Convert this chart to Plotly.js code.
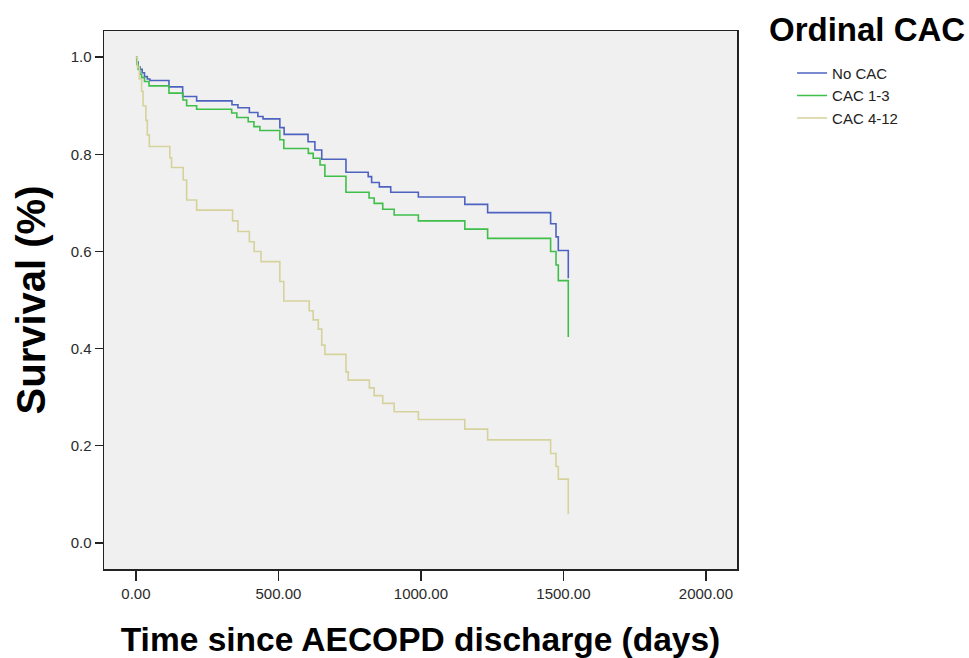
<!DOCTYPE html>
<html>
<head>
<meta charset="utf-8">
<script src="https://cdn.plot.ly/plotly-3.0.1.min.js"></script>
<style>html,body{margin:0;padding:0;background:#fff;}#chart{width:969px;height:658px;}</style>
</head>
<body>
<div id="chart"></div>
<script>
// Kaplan-Meier step points: time (days) at which survival changes, and survival after the change
const seriesNames = ["No CAC", "CAC 1-3", "CAC 4-12"];

const noCacTime = [0, 3, 8, 15, 22, 30, 40, 49, 116, 164, 213, 337, 358, 398, 428, 446, 505, 520, 604, 628, 652, 737, 815, 827, 854, 894, 991, 1154, 1234, 1455, 1474, 1482, 1517, 1517];
const noCacSurv = [1.0, 0.99, 0.98, 0.975, 0.968, 0.96, 0.955, 0.952, 0.939, 0.919, 0.91, 0.902, 0.896, 0.886, 0.878, 0.873, 0.855, 0.841, 0.826, 0.809, 0.79, 0.763, 0.754, 0.742, 0.733, 0.722, 0.712, 0.697, 0.68, 0.657, 0.63, 0.602, 0.545, 0.545];

const cac13Time = [0, 3, 8, 14, 20, 30, 46, 116, 165, 178, 213, 336, 354, 394, 414, 435, 505, 519, 605, 622, 646, 663, 737, 818, 836, 866, 906, 991, 1154, 1234, 1455, 1474, 1482, 1517, 1517];
const cac13Surv = [1.0, 0.985, 0.975, 0.965, 0.958, 0.95, 0.941, 0.926, 0.912, 0.9, 0.893, 0.885, 0.876, 0.867, 0.857, 0.849, 0.83, 0.812, 0.802, 0.792, 0.778, 0.755, 0.722, 0.71, 0.699, 0.687, 0.675, 0.663, 0.646, 0.627, 0.6, 0.572, 0.54, 0.424, 0.424];

const cac412Time = [0, 5, 12, 20, 25, 35, 40, 47, 119, 125, 166, 178, 213, 339, 358, 398, 415, 439, 505, 519, 608, 622, 640, 652, 663, 737, 745, 819, 836, 866, 906, 991, 1154, 1234, 1455, 1474, 1482, 1517, 1517];
const cac412Surv = [1.0, 0.98, 0.955, 0.93, 0.9, 0.87, 0.84, 0.816, 0.793, 0.773, 0.747, 0.706, 0.685, 0.663, 0.641, 0.62, 0.6, 0.579, 0.538, 0.498, 0.478, 0.459, 0.44, 0.407, 0.388, 0.352, 0.335, 0.319, 0.303, 0.287, 0.27, 0.254, 0.234, 0.212, 0.184, 0.157, 0.131, 0.059, 0.059];

const xTickVals = [0, 500, 1000, 1500, 2000];
const yTickVals = [0.0, 0.2, 0.4, 0.6, 0.8, 1.0];

const colors = ["#4e63c0", "#3fbf4a", "#d6d29c"];
const allTimes = [noCacTime, cac13Time, cac412Time];
const allSurv = [noCacSurv, cac13Surv, cac412Surv];

const traces = seriesNames.map((name, i) => ({
  x: allTimes[i],
  y: allSurv[i],
  name: name,
  type: "scatter",
  mode: "lines",
  line: {shape: "hv", color: colors[i], width: 1.6}
}));

const layout = {
  width: 969,
  height: 658,
  margin: {l: 104, r: 232, t: 31, b: 89},
  paper_bgcolor: "#ffffff",
  plot_bgcolor: "#f0f0f0",
  font: {family: "Liberation Sans, Arial, sans-serif", color: "#222"},
  xaxis: {
    range: [-112, 2109],
    tickvals: xTickVals,
    tickformat: ".2f",
    ticks: "outside",
    ticklen: 10,
    tickwidth: 1.5,
    tickcolor: "#222",
    showgrid: false,
    zeroline: false,
    showline: true,
    mirror: true,
    linecolor: "#222",
    linewidth: 1.5,
    tickfont: {size: 15, color: "#2a2a2a"},
    title: {text: "Time since AECOPD discharge (days)", font: {size: 33.5, color: "#000", family: "Liberation Sans, Arial, sans-serif", weight: "bold"}, standoff: 27}
  },
  yaxis: {
    range: [-0.054, 1.054],
    tickvals: yTickVals,
    tickformat: ".1f",
    ticks: "outside",
    ticklen: 8,
    tickwidth: 1.5,
    tickcolor: "#222",
    showgrid: false,
    zeroline: false,
    showline: true,
    mirror: true,
    linecolor: "#222",
    linewidth: 1.5,
    tickfont: {size: 15, color: "#2a2a2a"},
    title: {text: "Survival (%)", font: {size: 40, color: "#000", family: "Liberation Sans, Arial, sans-serif", weight: "bold"}, standoff: 12}
  },
  showlegend: true,
  legend: {
    x: 1.087,
    y: 0.952,
    xanchor: "left",
    yanchor: "top",
    bgcolor: "rgba(0,0,0,0)",
    font: {size: 15, color: "#222"},
    tracegroupgap: 0,
    itemwidth: 30
  },
  annotations: [{
    text: "Ordinal CAC",
    xref: "paper", yref: "paper",
    x: 1.205, y: 1.002,
    xanchor: "center", yanchor: "middle",
    showarrow: false,
    font: {size: 33, color: "#000", family: "Liberation Sans, Arial, sans-serif", weight: "bold"}
  }]
};

Plotly.newPlot("chart", traces, layout, {displayModeBar: false, staticPlot: true});
</script>
</body>
</html>
